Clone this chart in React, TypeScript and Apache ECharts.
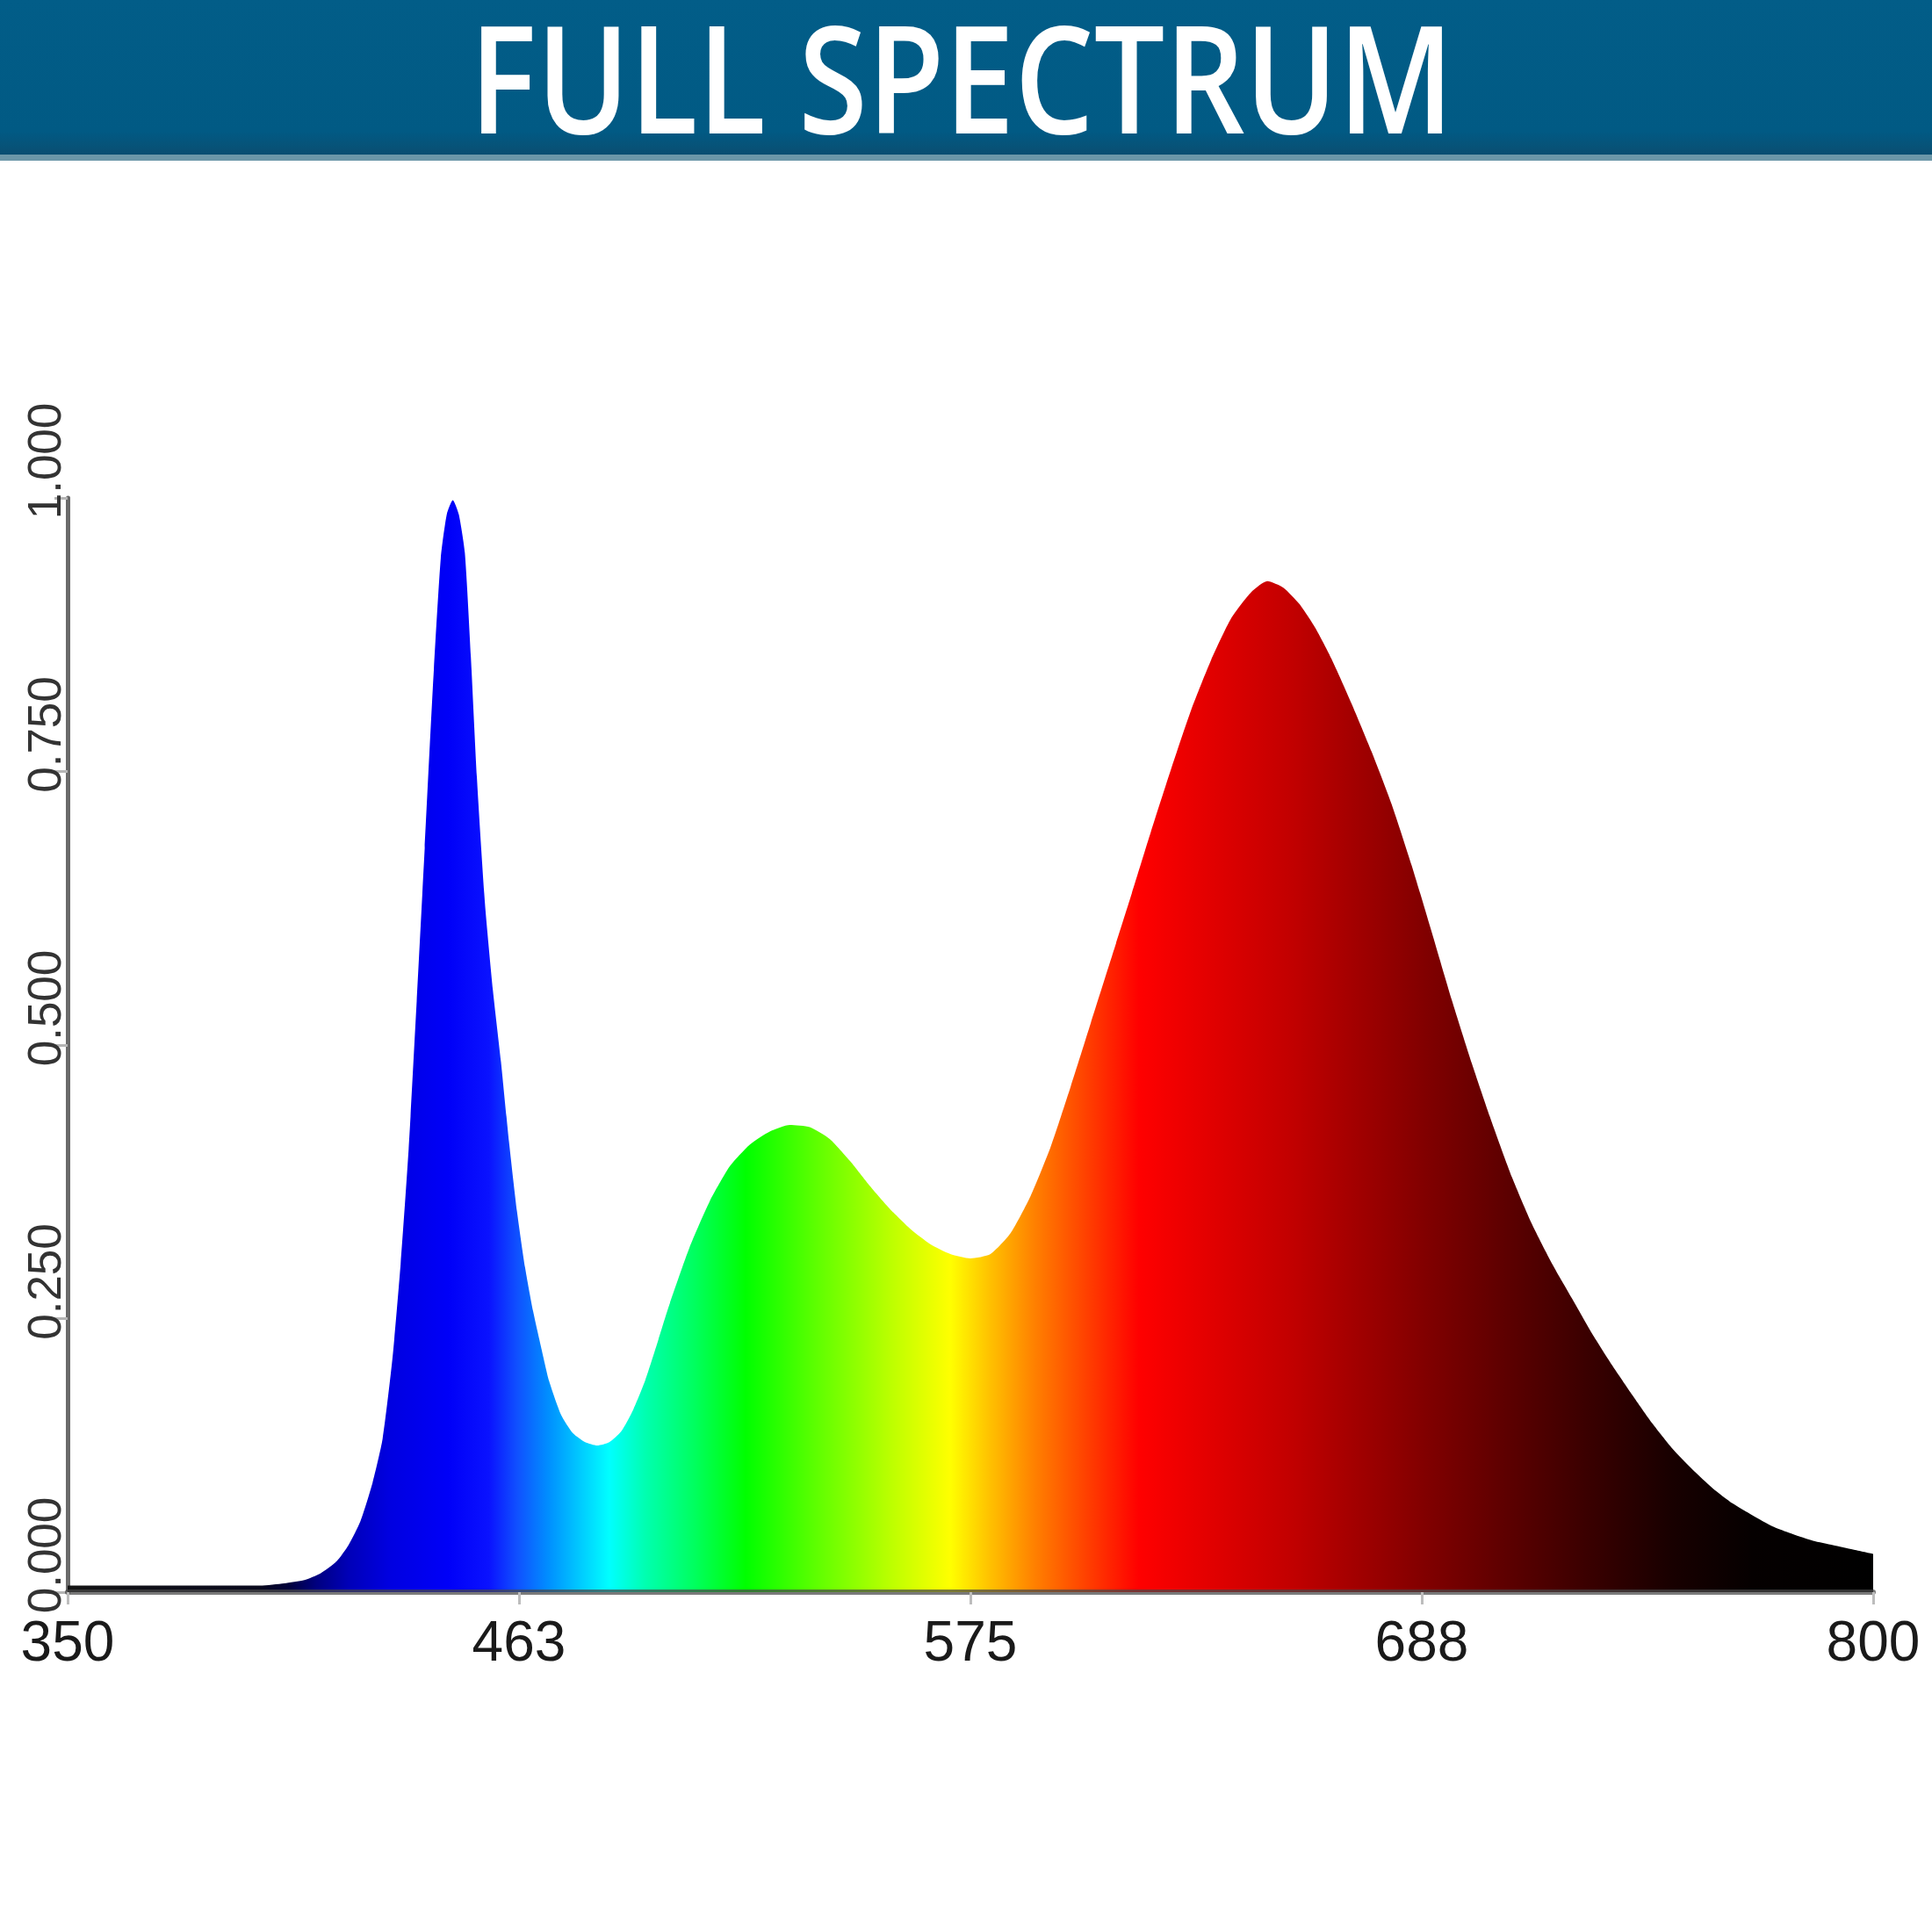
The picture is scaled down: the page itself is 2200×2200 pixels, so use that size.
import React, { useEffect, useRef } from "react";
import * as echarts from "echarts";

// Wavelength (nm) and relative intensity
const wavelengths = [
  350, 360, 370, 380, 390, 398, 404, 409, 413, 417, 420, 423, 426, 428.5, 431, 433, 435, 437,
  439, 441, 443, 444.5, 446, 447.5, 449, 450.5, 452, 454, 456, 458, 460, 462, 464, 466, 468,
  470, 473, 476, 479, 482, 485, 488, 491, 494, 497, 500, 505, 510, 515, 520, 525, 530, 535,
  540, 545, 550, 555, 560, 565, 570, 575, 580, 585, 590, 595, 600, 605, 610, 615, 620, 625,
  630, 635, 640, 645, 649, 653, 657, 661, 665, 670, 675, 680, 685, 690, 695, 700, 705, 710,
  715, 720, 725, 730, 735, 740, 745, 750, 755, 760, 765, 770, 775, 780, 785, 790, 795, 800,
];
const intensities = [
  0.006, 0.006, 0.006, 0.006, 0.006, 0.006, 0.008, 0.011, 0.017, 0.028, 0.043, 0.065, 0.1, 0.14, 0.215, 0.3, 0.405, 0.54,
  0.68, 0.825, 0.945, 0.985, 0.998, 0.985, 0.95, 0.855, 0.745, 0.63, 0.55, 0.485, 0.412, 0.348, 0.297, 0.257, 0.224,
  0.193, 0.162, 0.145, 0.137, 0.134, 0.137, 0.147, 0.167, 0.194, 0.228, 0.263, 0.315, 0.357, 0.389, 0.409, 0.421, 0.427, 0.425,
  0.414, 0.394, 0.371, 0.35, 0.332, 0.318, 0.309, 0.305, 0.309, 0.328, 0.362, 0.407, 0.462, 0.52, 0.578, 0.636, 0.695, 0.752,
  0.806, 0.852, 0.89, 0.914, 0.924, 0.918, 0.903, 0.881, 0.853, 0.812, 0.768, 0.72, 0.664, 0.603, 0.541, 0.483, 0.429, 0.379,
  0.336, 0.3, 0.268, 0.236, 0.207, 0.18, 0.154, 0.131, 0.112, 0.095, 0.081, 0.07, 0.06, 0.053, 0.047, 0.043, 0.039, 0.035,
];
const xTickValues = [350, 462.5, 575, 687.5, 800];
const yMin = 0;
const yMax = 1;
const yStep = 0.25;
const titleText = "FULL SPECTRUM";

// Spectrum colour stops (wavelength, colour)
const colorStops: [number, string][] = [
  [350, "#141414"], [398, "#0a0a1e"], [405, "#00003a"], [412, "#000080"], [420, "#0000b8"],
  [430, "#0000e0"], [445, "#0000f8"], [455, "#0a12ff"], [462, "#1050ff"], [470, "#0090ff"],
  [478, "#00ccff"], [485, "#00ffff"], [494, "#00ffb0"], [506, "#00ff60"], [519, "#00ff00"],
  [537, "#60ff00"], [556, "#c0ff00"], [570, "#ffff00"], [580, "#ffc000"], [591, "#ff8000"],
  [604, "#ff4000"], [617, "#ff0000"], [636, "#e00000"], [656, "#c00000"], [669, "#a60000"],
  [689, "#800000"], [709, "#5c0000"], [730, "#380000"], [750, "#180000"], [770, "#050000"],
  [800, "#000000"],
];

export default function App() {
  const ref = useRef<HTMLDivElement>(null);
  useEffect(() => {
    document.body.style.margin = "0";
    if (!ref.current) return;
    const chart = echarts.init(ref.current, null, { renderer: "svg" });
    const lo = wavelengths[0];
    const hi = wavelengths[wavelengths.length - 1];
    const gradient = new echarts.graphic.LinearGradient(
      0, 0, 1, 0,
      colorStops.map(([w, c]) => ({ offset: (w - lo) / (hi - lo), color: c }))
    );
    chart.setOption({
      animation: false,
      backgroundColor: "#ffffff",
      grid: { left: 77, right: 67, top: 567, bottom: 387 },
      graphic: [
        {
          type: "rect",
          shape: { x: 0, y: 0, width: 2200, height: 176 },
          style: {
            fill: new echarts.graphic.LinearGradient(0, 0, 0, 1, [
              { offset: 0, color: "#025d88" },
              { offset: 0.85, color: "#015a84" },
              { offset: 1, color: "#0a4e71" },
            ]),
          },
          z: 10,
        },
        {
          type: "rect",
          shape: { x: 0, y: 176, width: 2200, height: 7 },
          style: { fill: "#6c97a8" },
          z: 10,
        },
        {
          type: "text",
          x: 1095,
          y: 86,
          scaleX: 0.84,
          z: 11,
          style: {
            text: titleText,
            fill: "#ffffff",
            fontSize: 170,
            lineHeight: 170,
            fontFamily: "Open Sans",
            fontWeight: 600,
            align: "center",
            verticalAlign: "middle",
          },
        },
      ],
      xAxis: {
        type: "value",
        min: lo,
        max: hi,
        z: 5,
        axisLine: { show: true, onZero: false, lineStyle: { color: "rgba(70,70,70,0.72)", width: 6 } },
        axisTick: { show: true, customValues: xTickValues, length: 14, lineStyle: { color: "#bdbdbd", width: 3 } },
        axisLabel: {
          customValues: xTickValues,
          formatter: (v: number) => String(Math.round(v)),
          fontSize: 64,
          fontFamily: "Liberation Sans",
          color: "#1a1a1a",
          margin: 24,
        },
        splitLine: { show: false },
      },
      yAxis: {
        type: "value",
        min: yMin,
        max: yMax,
        interval: yStep,
        axisLine: { show: true, lineStyle: { color: "#6a6a6a", width: 5 } },
        axisTick: { show: true, length: 15, lineStyle: { color: "#b5b5b5", width: 3 } },
        axisLabel: {
          rotate: 90,
          formatter: (v: number) => v.toFixed(3),
          fontSize: 53,
          fontFamily: "Liberation Sans",
          color: "#333333",
          margin: 0,
          padding: [0, 0, 0, 84],
        },
        splitLine: { show: false },
      },
      series: [
        {
          type: "line",
          data: wavelengths.map((w, i) => [w, intensities[i]]),
          smooth: 0.2,
          showSymbol: false,
          lineStyle: { width: 0, opacity: 0 },
          areaStyle: { color: gradient, opacity: 1 },
          z: 2,
        },
      ],
    });
    return () => chart.dispose();
  }, []);
  return <div ref={ref} style={{ width: 2200, height: 2200 }} />;
}
